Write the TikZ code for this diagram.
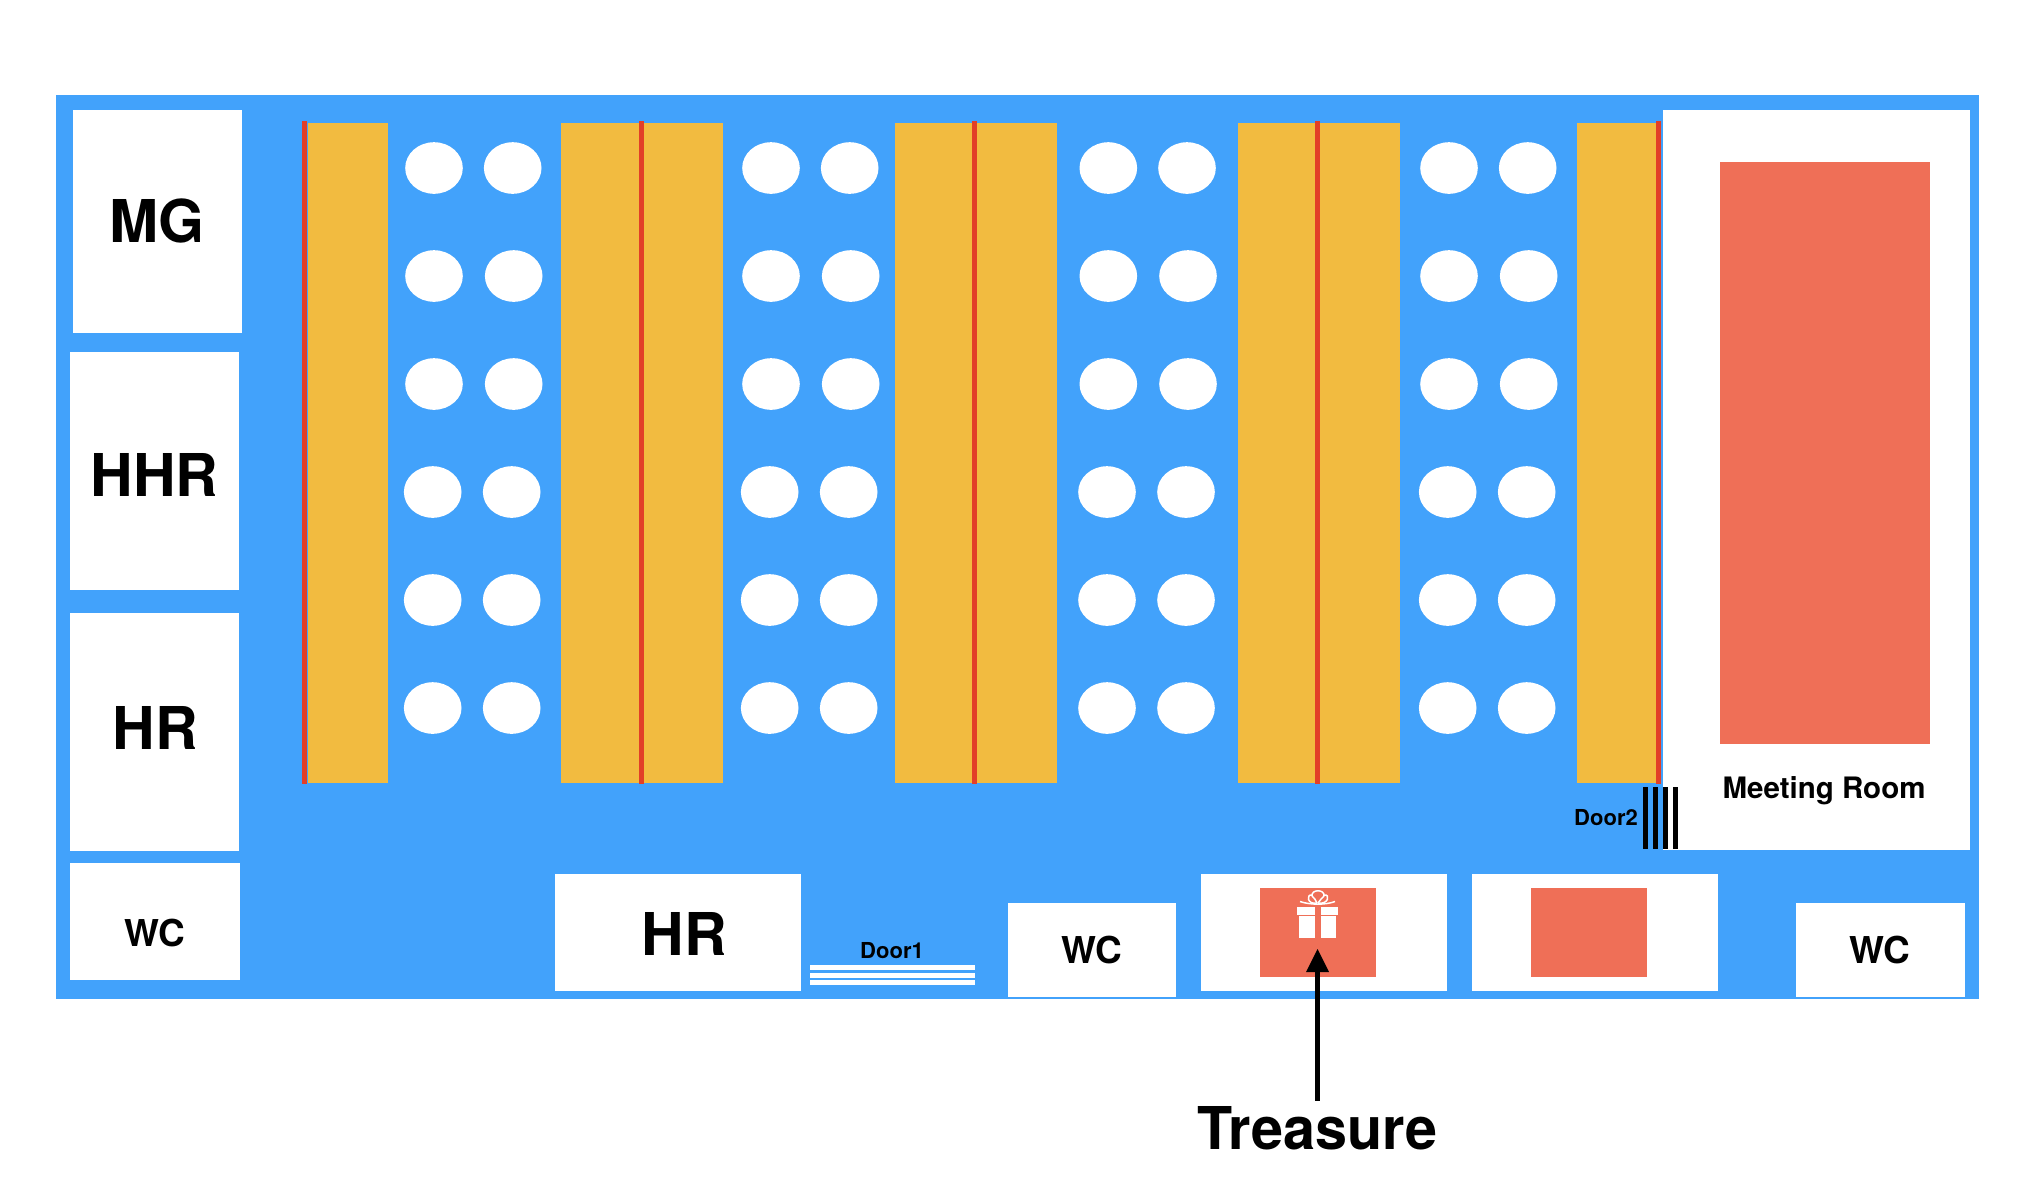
\documentclass[tikz,border=0pt]{standalone}
\usepackage{fontspec}
\setmainfont{TeX Gyre Heros}
\definecolor{bluebg}{HTML}{42A2FB}
\definecolor{desk}{HTML}{F2BB40}
\definecolor{redline}{HTML}{E23F28}
\definecolor{salmon}{HTML}{EF6F57}
\tikzset{
  room/.style={fill=white,draw=none},
  deskbox/.style={fill=desk,draw=none},
  redbar/.style={fill=redline,draw=none},
  salmonbox/.style={fill=salmon,draw=none},
  seat/.style={fill=white,draw=none},
  big/.style={font=\fontsize{59}{59}\selectfont\bfseries,inner sep=0pt},
  mid/.style={font=\fontsize{37}{37}\selectfont\bfseries,inner sep=0pt},
  small/.style={font=\fontsize{29.5}{29.5}\selectfont\bfseries,inner sep=0pt},
  tiny/.style={font=\fontsize{22}{22}\selectfont\bfseries,inner sep=0pt},
}
\begin{document}
\begin{tikzpicture}[x=1pt,y=-1pt]
\useasboundingbox (0,0) rectangle (2025,1187);
\fill[white] (0,0) rectangle (2025,1187);
\fill[bluebg] (56,95) rectangle (1979,999);
% rooms
\fill[room] (73,110) rectangle (242,333);
\fill[room] (70,352) rectangle (239,590);
\fill[room] (70,613) rectangle (239,851);
\fill[room] (70,863) rectangle (240,980);
\fill[room] (555,874) rectangle (801,991);
\fill[room] (1008,903) rectangle (1176,997);
\fill[room] (1201,874) rectangle (1447,991);
\fill[room] (1472,874) rectangle (1718,991);
\fill[room] (1796,903) rectangle (1965,997);
\fill[room] (1663,110) rectangle (1970,850);
% salmon
\fill[salmonbox] (1720,161.5) rectangle (1930,744);
\fill[salmonbox] (1260,888) rectangle (1376,977);
\fill[salmonbox] (1531,888) rectangle (1647,977);
% desks
\fill[deskbox] (308,123) rectangle (388,783);
\fill[deskbox] (561,123) rectangle (723,783);
\fill[deskbox] (895,123) rectangle (1057,783);
\fill[deskbox] (1238,123) rectangle (1400,783);
\fill[deskbox] (1577,123) rectangle (1656,783);
\fill[redbar] (302,121) rectangle (307,784);
\fill[redbar] (639,121) rectangle (644,784);
\fill[redbar] (972,121) rectangle (977,784);
\fill[redbar] (1315,121) rectangle (1320,784);
\fill[redbar] (1656,121) rectangle (1661,784);
% seats
\foreach \gx in {0,337,674.3,1015}{
  \fill[seat] (434+\gx,168) ellipse [x radius=28.8,y radius=25.8];
  \fill[seat] (512.7+\gx,168) ellipse [x radius=28.8,y radius=25.8];
  \foreach \y in {276,384}{
    \fill[seat] (434+\gx,\y) ellipse [x radius=28.8,y radius=25.8];
    \fill[seat] (513.7+\gx,\y) ellipse [x radius=28.8,y radius=25.8];
  }
  \foreach \y in {492,600,708}{
    \fill[seat] (432.7+\gx,\y) ellipse [x radius=28.8,y radius=25.8];
    \fill[seat] (511.7+\gx,\y) ellipse [x radius=28.8,y radius=25.8];
  }
}
% doors
\foreach \y in {965,972.5,980}{\fill[white] (810,\y) rectangle (975,\y+5);}
\foreach \x in {1643,1653,1663,1673}{\fill[black] (\x,787) rectangle (\x+5,849);}
% gift
\fill[white] (1297,907) rectangle (1315,915);
\fill[white] (1321,907) rectangle (1338,915);
\fill[white] (1299,916) rectangle (1315,938);
\fill[white] (1321,916) rectangle (1336,938);
\draw[white,line width=1.5pt] (1300,901.5) .. controls (1310,905) and (1326,905) .. (1335,901.5);
\draw[white,line width=1.5pt] (1317,903) .. controls (1307,905) and (1306,894) .. (1312,895);
\draw[white,line width=1.5pt] (1318,903) .. controls (1328,905) and (1331,894) .. (1324,895);
\draw[white,line width=1.5pt] (1312,896) .. controls (1311,889) and (1325,889) .. (1324,896);
\draw[white,line width=1.5pt] (1312,896) .. controls (1314,898) and (1316,900) .. (1317,903);
\draw[white,line width=1.5pt] (1324,896) .. controls (1322,898) and (1320,900) .. (1318,903);
% labels
\node[big] (mg) at (157.3,221) {MG};
\node[big] (hhr) at (154.5,475) {HHR};
\node[big] (hr1) at (155,728) {HR};
\node[mid] (wc1) at (155,933) {WC};
\node[big] (hr2) at (684,934) {HR};
\node[mid] (wc2) at (1092,950) {WC};
\node[mid] (wc3) at (1880,950) {WC};
\node[small] (meet) at (1824,791) {Meeting Room};
\node[tiny] (d1) at (892,951) {Door1};
\node[tiny] (d2) at (1606,818) {Door2};
\node[big] (treasure) at (1317.5,1128) {\scalebox{.975}[1]{Treasure}};
\coordinate (tip) at (1317.5,949);
\coordinate (tail) at (1317.5,1101);
\fill[black] (1315,970) rectangle (1320,1101);
\fill[black] (tip) -- (1329,972) -- (1306,972) -- cycle;
\end{tikzpicture}
\end{document}
